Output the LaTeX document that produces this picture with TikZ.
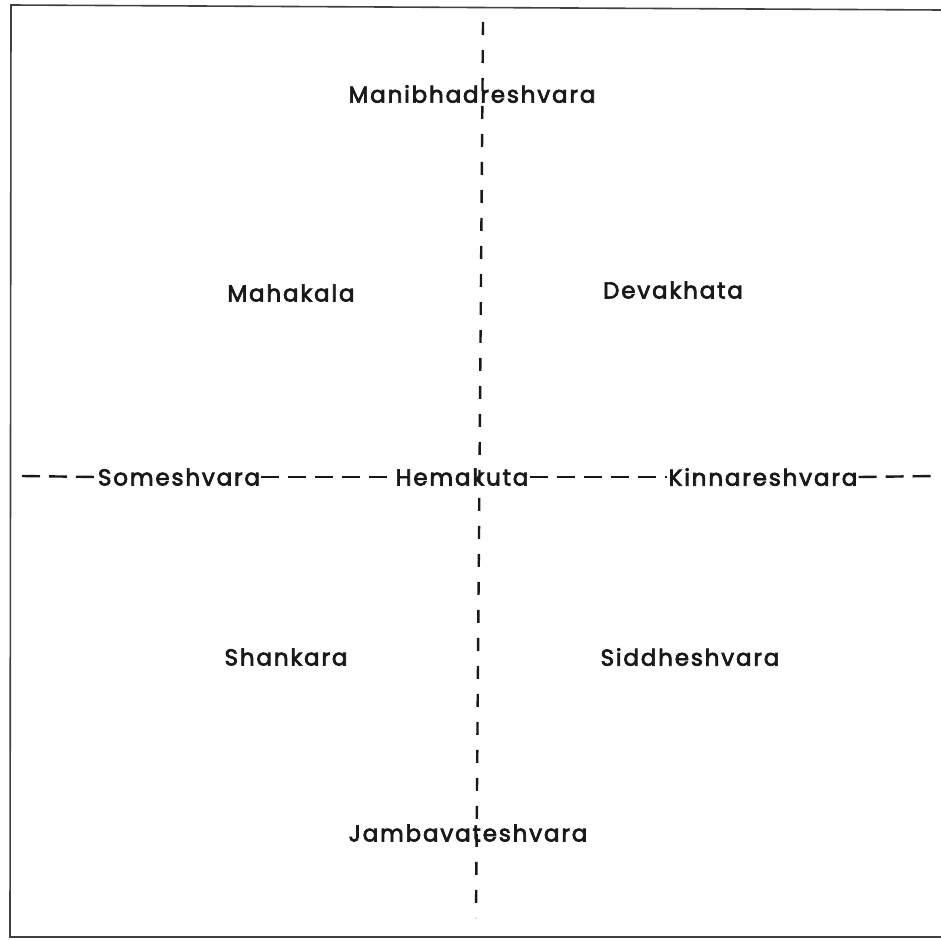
\documentclass[tikz,border=0pt]{standalone}
\usepackage{fontspec}
\setmainfont{Poppins}
\newfontfamily\lblfont{Poppins}[FakeBold=3, LetterSpace=8]
\begin{document}
\begin{tikzpicture}[x=1pt,y=-1pt,
  lbl/.style={font=\lblfont\fontsize{23}{25}\selectfont, inner sep=1pt, text=black!90},
  dline/.style={line width=2.4pt, dash pattern=on 18pt off 9pt, black!90},
  vline/.style={line width=2.4pt, dash pattern=on 13pt off 15pt, black!90},
  frame/.style={line width=1.6pt, black!75}]
\useasboundingbox (0,0) rectangle (941,939);
% frame (left, top, bottom)
\draw[frame] (941,10) -- (11,5) -- (10,937) -- (941,937);
% vertical axis
\coordinate (vtop) at (483,22);
\coordinate (vbot) at (476,918);
\draw[vline] (vtop) -- (vbot);
% labels
\node[lbl] (mani) at (472,94) {Manibhadreshvara};
\node[lbl] (maha) at (291,293) {Mahakala};
\node[lbl] (deva) at (673,290) {Devakhata};
\node[lbl] (some) at (179,477) {Someshvara};
\node[lbl] (hema) at (462,477) {Hemakuta};
\node[lbl] (kinn) at (763,477) {Kinnareshvara};
\node[lbl] (shan) at (286,657) {Shankara};
\node[lbl] (sidd) at (690,657) {Siddheshvara};
\node[lbl] (jamb) at (468,833) {Jambavateshvara};
% horizontal axis
\coordinate (hl) at (22,476);
\coordinate (hr) at (936,476);
\draw[dline] (hl) -- (some.west);
\draw[dline] (some.east) -- (hema.west);
\draw[dline] (hema.east) -- (kinn.west);
\draw[dline] (kinn.east) -- (hr);
\end{tikzpicture}
\end{document}
